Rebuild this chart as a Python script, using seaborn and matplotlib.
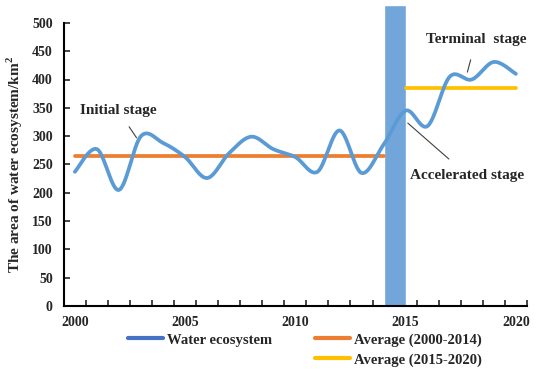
import numpy as np
import pandas as pd
import matplotlib
matplotlib.use("Agg")
import matplotlib.pyplot as plt
from matplotlib.lines import Line2D
import seaborn as sns

# data
years = list(range(2000, 2021))
water_area = [237, 277, 205, 300, 288, 263, 226, 270, 299, 277,
              263, 237, 310, 235, 285, 345, 318, 405, 400, 431, 410]
avg_early = 265   # average 2000-2014
avg_late = 385    # average 2015-2020
bar_year = 2014.5
bar_height = 532


def smooth(x, y, n=30):
    # excel style smoothed line (catmull-rom bezier through every point)
    x = np.asarray(x, float)
    y = np.asarray(y, float)
    px = np.concatenate([[x[0]], x, [x[-1]]])
    py = np.concatenate([[y[0]], y, [y[-1]]])
    xs, ys = [], []
    t = np.linspace(0, 1, n, endpoint=False)
    for i in range(1, len(px) - 2):
        p0x, p1x, p2x, p3x = px[i - 1], px[i], px[i + 1], px[i + 2]
        p0y, p1y, p2y, p3y = py[i - 1], py[i], py[i + 1], py[i + 2]
        c1x, c1y = p1x + (p2x - p0x) / 6, p1y + (p2y - p0y) / 6
        c2x, c2y = p2x - (p3x - p1x) / 6, p2y - (p3y - p1y) / 6
        b0, b1, b2, b3 = (1 - t) ** 3, 3 * t * (1 - t) ** 2, 3 * t ** 2 * (1 - t), t ** 3
        xs.append(b0 * p1x + b1 * c1x + b2 * c2x + b3 * p2x)
        ys.append(b0 * p1y + b1 * c1y + b2 * c2y + b3 * p2y)
    xs.append([x[-1]])
    ys.append([y[-1]])
    return np.concatenate(xs), np.concatenate(ys)


sns.set_style("white")
plt.rcParams['font.family'] = ['Liberation Serif', 'DejaVu Serif']
plt.rcParams['font.weight'] = 'bold'

fig = plt.figure(figsize=(5.5, 3.75), dpi=100)
ax = fig.add_axes([0.116, 0.184, 0.842, 0.755])

blue = "#5B9BD5"

# stage separator bar
ax.bar([bar_year], [bar_height], width=1.0, color="#72A6DA", clip_on=False, zorder=1)

sx, sy = smooth(years, water_area)
curve = pd.DataFrame({"year": sx, "area": sy})
sns.lineplot(data=curve, x="year", y="area", ax=ax, color=blue, lw=2.7,
             sort=False, estimator=None, zorder=3)

ax.plot([years[0], 2014], [avg_early, avg_early], color="#ED7D31", lw=2.7, zorder=2)
ax.plot([2015, years[-1]], [avg_late, avg_late], color="#FFC000", lw=2.7, zorder=2)

ax.set_xlim(1999.5, 2020.5)
ax.set_ylim(0, 500)
ax.set_xticks([2000, 2005, 2010, 2015, 2020])
ax.set_xticks(np.arange(2000.5, 2020.6, 1.0), minor=True)
ax.set_yticks(range(0, 501, 50))
ax.tick_params(axis="x", which="major", length=0, pad=7, labelsize=10)
ax.tick_params(axis="x", which="minor", direction="in", length=4, width=1.2, bottom=True)
ax.tick_params(axis="y", direction="in", length=4, width=1.2, left=True, labelsize=10, pad=8)
for s in ["top", "right"]:
    ax.spines[s].set_visible(False)
for s in ["left", "bottom"]:
    ax.spines[s].set_color("black")
    ax.spines[s].set_linewidth(1.5)

ax.set_xlabel("")
ax.set_ylabel("The area of water ecosystem/km$^\\mathregular{2}$", fontsize=11,
              fontweight="bold", labelpad=5)

# stage labels
ax.annotate("Initial stage", xy=(2002.8, 297), xytext=(2001.95, 346),
            ha="center", va="center", fontsize=11, fontweight="bold",
            arrowprops=dict(arrowstyle="-", color="#404040", lw=0.8, shrinkA=6, shrinkB=0))
ax.annotate("Terminal  stage", xy=(2017.8, 413), xytext=(2018.2, 471),
            ha="center", va="center", fontsize=11, fontweight="bold",
            arrowprops=dict(arrowstyle="-", color="#404040", lw=0.8, shrinkA=8, shrinkB=0))
ax.annotate("Accelerated stage", xy=(2015.1, 323), xytext=(2017.8, 231),
            ha="center", va="center", fontsize=11, fontweight="bold",
            arrowprops=dict(arrowstyle="-", color="#404040", lw=0.8, shrinkA=7, shrinkB=0))

handles = [Line2D([], [], color="#4472C4", lw=3),
           Line2D([], [], color="none"),
           Line2D([], [], color="#ED7D31", lw=3),
           Line2D([], [], color="#FFC000", lw=3)]
labels = ["Water ecosystem", "", "Average (2000-2014)", "Average (2015-2020)"]
fig.legend(handles, labels, ncol=2, loc="upper left", bbox_to_anchor=(0.222, 0.127),
           frameon=False, fontsize=10.5, handlelength=2.4, handletextpad=0.3,
           columnspacing=2.9, labelspacing=0.45, borderaxespad=0)

fig.savefig("out.png", dpi=100)
